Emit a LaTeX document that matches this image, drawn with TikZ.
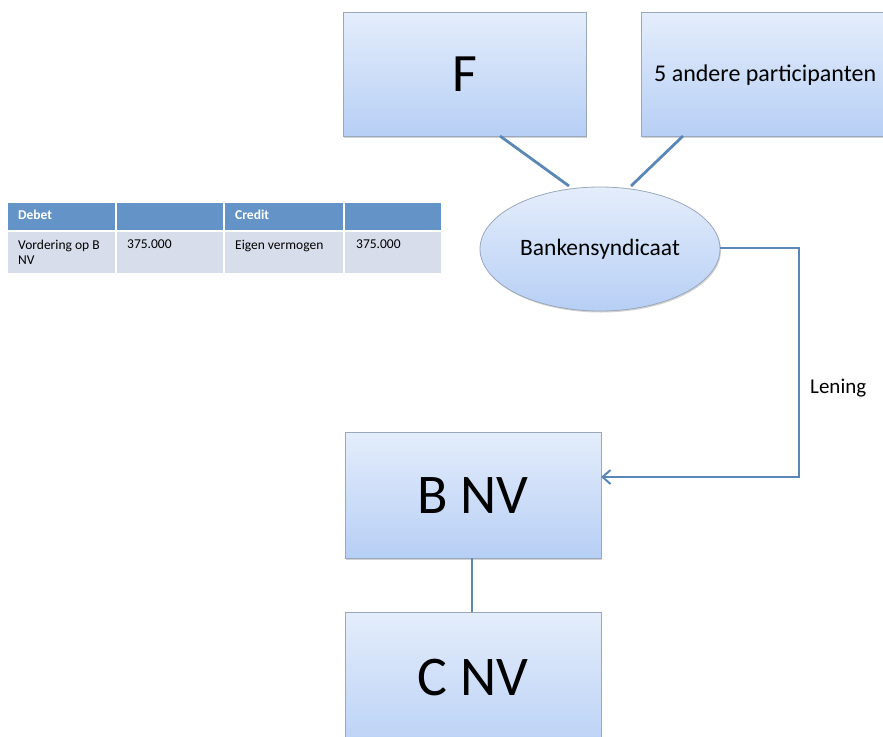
\documentclass[tikz,border=0pt]{standalone}
\usepackage{fontspec}
\setmainfont{Carlito}
\usetikzlibrary{shapes.geometric,arrows.meta,shadows}
\definecolor{linec}{HTML}{5B87B8}
\definecolor{boxtop}{HTML}{E4EDFB}
\definecolor{boxbot}{HTML}{B7CFF5}
\definecolor{boxdraw}{HTML}{9AA8BC}
\definecolor{hdr}{HTML}{6494C7}
\definecolor{rowc}{HTML}{D8DDEB}
\tikzset{
  entity/.style={draw=boxdraw, line width=0.8pt, top color=boxtop, bottom color=boxbot, inner sep=0pt,
    drop shadow={shadow xshift=1pt, shadow yshift=-1.5pt, fill=black!35, opacity=0.5}},
  conn/.style={draw=linec, line width=2.8pt},
  hcell/.style={fill=hdr, draw=white, line width=1.5pt},
  rcell/.style={fill=rowc, draw=white, line width=1.5pt},
  htext/.style={anchor=north west, text=white, font=\fontsize{13.5}{15}\selectfont\bfseries, inner sep=0pt},
  rtext/.style={anchor=north west, font=\fontsize{13.5}{15}\selectfont, inner sep=0pt, align=left},
}
\begin{document}
\begin{tikzpicture}[x=1pt,y=-1pt]
\useasboundingbox (0,0) rectangle (883,736);
\clip (0,0) rectangle (883,736);
% boxes
\path[entity] (343,12) rectangle (586,136);
\node (F) at (464.5,74) {\fontsize{54}{60}\selectfont F};
\coordinate (Fb) at (500,136);
\path[entity] (641,12) rectangle (905,136);
\node[anchor=west, inner sep=0pt] (P) at (654,75) {\fontsize{24}{26}\selectfont 5 andere participanten};
\coordinate (Pb) at (683,136);
\node[ellipse, entity, minimum width=240, minimum height=124] (S) at (600,249) {\fontsize{23.5}{26}\selectfont Bankensyndicaat};
\path[entity] (345,432) rectangle (601,558);
\node (B) at (473,496) {\fontsize{56}{60}\selectfont B NV};
\coordinate (Br) at (601,477);
\coordinate (Bb) at (472,558);
\path[entity] (345,612) rectangle (601,760);
\node (C) at (473,678) {\fontsize{56}{60}\selectfont C NV};
\coordinate (Ct) at (472,612);
% connectors
\draw[conn] (Fb) -- (569,186);
\draw[conn] (Pb) -- (631,186);
\draw[conn, -{Straight Barb[length=8pt,width=14pt,line width=2pt]}] (S.east |- 0,248) -- (799,248) -- (799,477) -- (Br);
\node[anchor=west, inner sep=0pt] (L) at (810,388) {\fontsize{21}{23}\selectfont Lening};
\draw[conn] (Bb) -- (Ct);
% table
\path[hcell] (7,202) rectangle (116,231);
\path[hcell] (116,202) rectangle (224,231);
\path[hcell] (224,202) rectangle (344,231);
\path[hcell] (344,202) rectangle (442,231);
\path[rcell] (7,231) rectangle (116,274);
\path[rcell] (116,231) rectangle (224,274);
\path[rcell] (224,231) rectangle (344,274);
\path[rcell] (344,231) rectangle (442,274);
\node[htext] (h1) at (18,210) {Debet};
\node[htext] (h3) at (235,210) {Credit};
\node[rtext] (r1) at (18,240) {Vordering op B\\NV};
\node[rtext] (r2) at (127,240) {375.000};
\node[rtext] (r3) at (235,240) {Eigen vermogen};
\node[rtext] (r4) at (356,240) {375.000};
\end{tikzpicture}
\end{document}
